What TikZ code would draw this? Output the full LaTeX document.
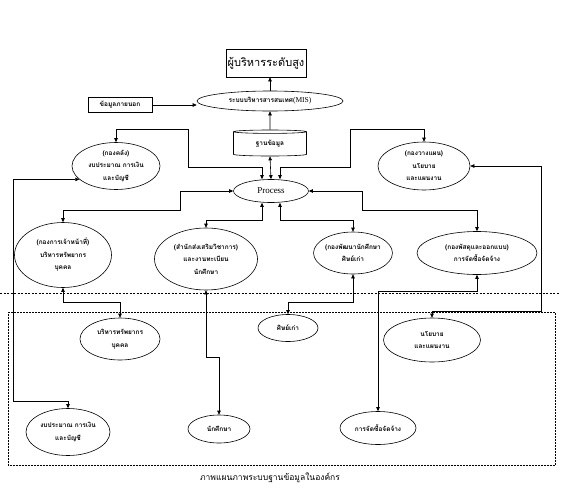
\documentclass[tikz,border=0pt]{standalone}
\usepackage{fontspec}
\setmainfont{Liberation Serif}
\newfontfamily\thf[Script=Thai]{Loma}
\usetikzlibrary{shapes.geometric,arrows.meta}
\tikzset{
  ell/.style={ellipse, draw, line width=0.6pt, inner sep=0pt, align=center,
    font=\thf\bfseries\fontsize{6.5}{12.5}\selectfont},
  boxn/.style={rectangle, draw, line width=0.6pt, inner sep=0pt, align=center},
  conn/.style={line width=0.6pt, -{Triangle[length=4pt,width=3.5pt]}},
  dbl/.style={line width=0.6pt, {Triangle[length=4pt,width=3.5pt]}-{Triangle[length=4pt,width=3.5pt]}},
}
\begin{document}
\begin{tikzpicture}[x=1pt,y=-1pt]
\useasboundingbox (0,0) rectangle (571,493);
% top
\node[boxn, minimum width=80pt, minimum height=28pt, font=\thf\fontsize{11}{13}\selectfont] (boss) at (266,63) {ผู้บริหารระดับสูง};
\node[ell, minimum width=146pt, minimum height=20pt, font=\fontsize{7.5}{9}\selectfont] (mis) at (270,101) {{\thf\bfseries\fontsize{6.5}{8}\selectfont ระบบบริหารสารสนเทศ}(MIS)};
\node[boxn, minimum width=64pt, minimum height=15pt, font=\thf\bfseries\fontsize{6.5}{8}\selectfont] (ext) at (120,105) {ข้อมูลภายนอก};
\node[cylinder, shape border rotate=90, draw, line width=0.6pt, aspect=0.12, minimum width=73pt, minimum height=26pt, inner sep=0pt, font=\thf\bfseries\fontsize{6.5}{8}\selectfont] (db) at (270,144) {ฐานข้อมูล};
\node[ellipse, draw, line width=0.6pt, inner sep=0pt, minimum width=75pt, minimum height=23pt, font=\fontsize{9}{11}\selectfont] (proc) at (271,191) {Process};
% upper ellipses
\node[ell, minimum width=88pt, minimum height=47pt] (kl) at (116,166) {(กองคลัง)\\งบประมาณ การเงิน\\และบัญชี};
\node[ell, minimum width=92pt, minimum height=48pt] (kr) at (424,166) {(กองวางแผน)\\นโยบาย\\และแผนงาน};
% middle row
\node[ell, minimum width=97pt, minimum height=65pt] (ml) at (63,255) {(กองการเจ้าหน้าที่)\\บริหารทรัพยากร\\บุคคล};
\node[ell, minimum width=103pt, minimum height=62pt] (mm) at (206,259) {(สำนักส่งเสริมวิชาการ)\\และงานทะเบียน\\นักศึกษา};
\node[ell, minimum width=74pt, minimum height=42pt] (m3) at (353,253) {(กองพัฒนานักศึกษา\\ศิษย์เก่า};
\node[ell, minimum width=120pt, minimum height=43pt] (m4) at (477,253) {(กองพัสดุและออกแบบ)\\การจัดซื้อจัดจ้าง};
% bottom
\node[ell, minimum width=80pt, minimum height=42pt] (bp) at (120,339) {บริหารทรัพยากร\\บุคคล};
\node[ell, minimum width=60pt, minimum height=27pt] (al) at (288,328) {ศิษย์เก่า};
\node[ell, minimum width=97pt, minimum height=44pt] (np) at (432,340) {นโยบาย\\และแผนงาน};
\node[ell, minimum width=84pt, minimum height=47pt] (bl) at (68,432) {งบประมาณ การเงิน\\และบัญชี};
\node[ell, minimum width=62pt, minimum height=28pt] (st) at (219,429) {นักศึกษา};
\node[ell, minimum width=76pt, minimum height=33pt] (pc) at (378,428) {การจัดซื้อจัดจ้าง};
% frames
\draw[line width=0.5pt, dash pattern=on 2pt off 1.5pt] (0,293) -- (560,293);
\draw[line width=0.5pt, densely dotted] (8,312) rectangle (555,465);
% connectors top
\draw[conn] (mis.north) -- (mis.north |- boss.south);
\draw[conn] (ext.east) -- (ext.east -| mis.west);
\draw[conn] (db.north) -- (mis.south);
\draw[dbl] (db.south) -- (proc.north);
\draw[dbl] (kl.north) |- (188,129) -- (188,167) -| ([xshift=-9pt]proc.north);
\draw[dbl] (kr.north) |- (350,129) -- (350,167) -| ([xshift=9pt]proc.north);
\draw[dbl] (proc.west) -- (180,191) -- (180,210) -| (ml.north);
\draw[dbl] (proc.east) -- (362,191) -- (362,210) -| (m4.north);
\draw[dbl] ([xshift=-9pt]proc.south) |- (206,220) -- (mm.north);
\draw[dbl] ([xshift=9pt]proc.south) |- (353,220) -- (m3.north);
% long side links
\draw[dbl] (kl.200) -| (13,401) -| (bl.north);
\draw[dbl] (kr.east) -| (541,311) -| (np.north);
% lower links
\draw[dbl] (ml.south) -- (63,302) -| (bp.north);
\draw[dbl] (mm.south) -- (206,357) -| (st.north);
\draw[dbl] (m3.south) -- (353,302) -| (al.north);
\draw[dbl] (m4.south) -- (477,291) -| (pc.north);
% caption
\node[font=\thf\fontsize{8.5}{10}\selectfont] (cap) at (270,478) {ภาพแผนภาพระบบฐานข้อมูลในองค์กร};
\end{tikzpicture}
\end{document}
